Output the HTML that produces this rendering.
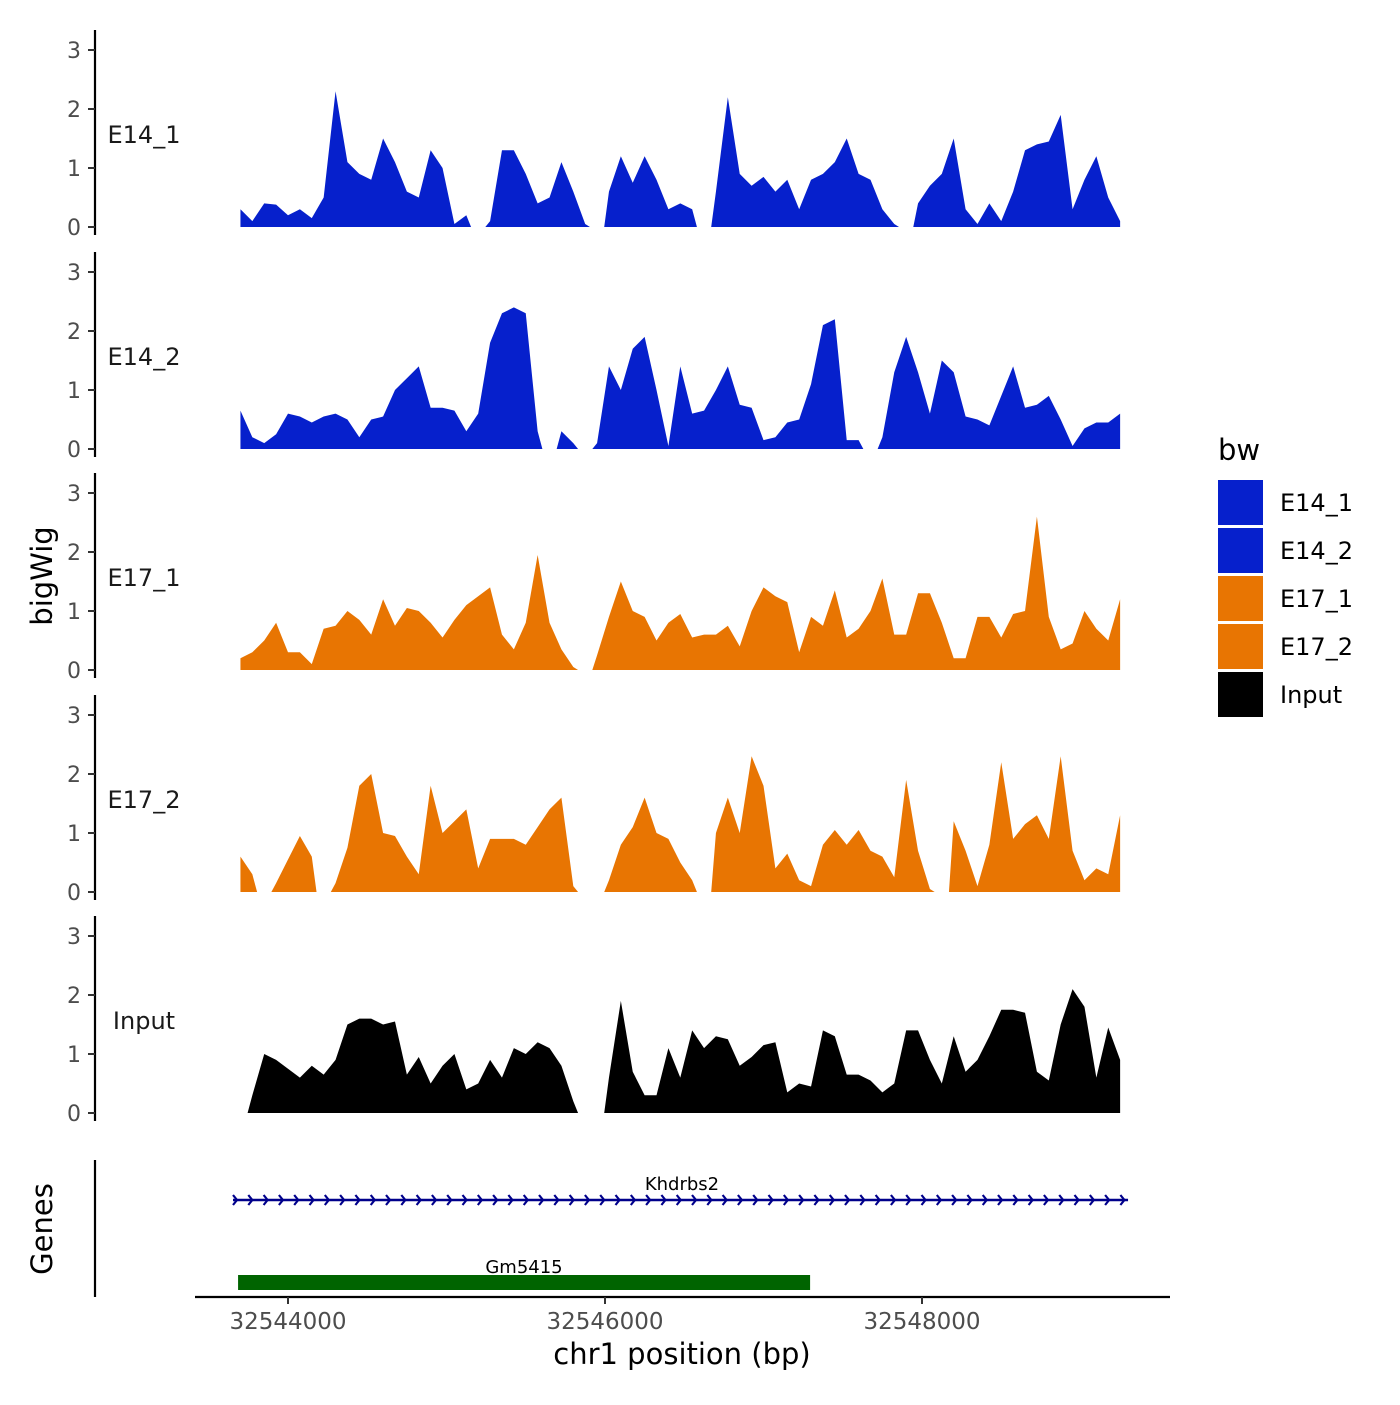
<!DOCTYPE html>
<html><head><meta charset="utf-8"><style>
body{margin:0;background:#fff}
svg text{font-family:"DejaVu Sans","Liberation Sans",sans-serif}
</style></head><body>
<svg id="chart" width="1400" height="1400" viewBox="0 0 1400 1400" xmlns="http://www.w3.org/2000/svg"></svg>
<script>
const trackNames=["E14_1","E14_2","E17_1","E17_2","Input"];
const trackColors=["#0620cc","#0620cc","#e87502","#e87502","#000000"];
const binStart=32543700, binSize=75;
const e14_1=[0.3,0.1,0.4,0.38,0.2,0.3,0.15,0.5,2.3,1.1,0.9,0.8,1.5,1.1,0.6,0.5,1.3,1.0,0.05,0.2,null,0.1,1.3,1.3,0.9,0.4,0.5,1.1,0.6,0.05,null,0.6,1.2,0.75,1.2,0.8,0.3,0.4,0.3,null,0.6,2.2,0.9,0.7,0.85,0.6,0.8,0.3,0.8,0.9,1.1,1.5,0.9,0.8,0.3,0.05,null,0.4,0.7,0.9,1.5,0.3,0.05,0.4,0.1,0.6,1.3,1.4,1.45,1.9,0.3,0.8,1.2,0.5,0.1];
const e14_2=[0.65,0.2,0.1,0.25,0.6,0.55,0.45,0.55,0.6,0.5,0.2,0.5,0.55,1.0,1.2,1.4,0.7,0.7,0.65,0.3,0.6,1.8,2.3,2.4,2.3,0.3,null,0.3,0.1,null,0.1,1.4,1.0,1.7,1.9,1.0,0.05,1.4,0.6,0.65,1.0,1.4,0.75,0.7,0.15,0.2,0.45,0.5,1.1,2.1,2.2,0.15,0.15,null,0.2,1.3,1.9,1.3,0.6,1.5,1.3,0.55,0.5,0.4,0.9,1.4,0.7,0.75,0.9,0.5,0.05,0.35,0.45,0.45,0.6];
const e17_1=[0.2,0.3,0.5,0.8,0.3,0.3,0.1,0.7,0.75,1.0,0.85,0.6,1.2,0.75,1.05,1.0,0.8,0.55,0.85,1.1,1.25,1.4,0.6,0.35,0.8,1.95,0.8,0.35,0.05,null,0.25,0.9,1.5,1.0,0.9,0.5,0.8,0.95,0.55,0.6,0.6,0.75,0.4,1.0,1.4,1.25,1.15,0.3,0.9,0.75,1.35,0.55,0.7,1.0,1.55,0.6,0.6,1.3,1.3,0.8,0.2,0.2,0.9,0.9,0.55,0.95,1.0,2.6,0.9,0.35,0.45,1.0,0.7,0.5,1.2];
const e17_2=[0.6,0.3,null,0.15,0.55,0.95,0.6,null,0.15,0.75,1.8,2.0,1.0,0.95,0.6,0.3,1.8,1.0,1.2,1.4,0.4,0.9,0.9,0.9,0.8,1.1,1.4,1.6,0.1,null,null,0.2,0.8,1.1,1.6,1.0,0.9,0.5,0.2,null,1.0,1.6,1.0,2.3,1.8,0.4,0.65,0.2,0.1,0.8,1.05,0.8,1.05,0.7,0.6,0.25,1.9,0.7,0.05,null,1.2,0.7,0.1,0.8,2.2,0.9,1.15,1.3,0.9,2.3,0.7,0.2,0.4,0.3,1.3];
const inputTrack=[null,0.3,1.0,0.9,0.75,0.6,0.8,0.65,0.9,1.5,1.6,1.6,1.5,1.55,0.65,0.95,0.5,0.8,1.0,0.4,0.5,0.9,0.6,1.1,1.0,1.2,1.1,0.8,0.2,null,null,0.6,1.9,0.7,0.3,0.3,1.1,0.6,1.4,1.1,1.3,1.25,0.8,0.95,1.15,1.2,0.35,0.5,0.45,1.4,1.3,0.65,0.65,0.55,0.35,0.5,1.4,1.4,0.9,0.5,1.3,0.7,0.9,1.3,1.75,1.75,1.7,0.7,0.55,1.5,2.1,1.8,0.6,1.45,0.9];
const trackValues=[e14_1,e14_2,e17_1,e17_2,inputTrack];
const yTicks=[0,1,2,3];
const xTicks=[32544000,32546000,32548000];
const geneNames=["Khdrbs2","Gm5415"];
const geneStarts=[32543653,32543685];
const geneEnds=[32549300,32547294];

const NS="http://www.w3.org/2000/svg";
const svg=document.getElementById('chart');
function el(t,a,p){const e=document.createElementNS(NS,t);for(const k in a)e.setAttribute(k,a[k]);(p||svg).appendChild(e);return e;}
function X(bp){return 288+(bp-32544000)*(317/2000);}
const base0=[227,449,670,892,1113];
function Y(i,v){return base0[i]-v*59;}

trackNames.forEach((name,i)=>{
  const g=el('g',{});
  
  
  const top=base0[i]-197, bot=base0[i]+8;
  const ax=el('line',{x1:95,x2:95,y1:top,y2:bot,stroke:'#000','stroke-width':2.2},g);
  
  
  yTicks.forEach(t=>{
    const tk=el('line',{x1:88,x2:95,y1:Y(i,t),y2:Y(i,t),stroke:'#333','stroke-width':2},g);
    
    
    const tl=el('text',{x:81,y:Y(i,t)+8,'text-anchor':'end','font-size':22,fill:'#4d4d4d'},g);
    tl.textContent=t;
    
    
  });
  const lab=el('text',{x:144,y:base0[i]-84,'text-anchor':'middle','font-size':24,fill:'#1a1a1a'},g);
  lab.textContent=name;
  
  
  const vals=trackValues[i];
  let seg=[];
  const flush=()=>{
    if(seg.length){
      const xs=seg[0][0]-binSize*0.4, xe=seg[seg.length-1][0]+(seg[seg.length-1][0]>=binStart+74*binSize?0:binSize*0.4);
      let d='M'+X(Math.max(xs,binStart))+','+base0[i];
      seg.forEach(p=>{d+=' L'+X(p[0])+','+Y(i,p[1]);});
      d+=' L'+X(xe)+','+base0[i]+' Z';
      const a=el('path',{d:d,fill:trackColors[i]},g);
      
      
    }
    seg=[];
  };
  vals.forEach((v,k)=>{
    if(v===null){flush();}else seg.push([binStart+k*binSize,v]);
  });
  flush();
});

const ga=el('line',{x1:95,x2:95,y1:1160,y2:1297,stroke:'#000','stroke-width':2.2});


{
  const x1=X(geneStarts[0]),x2=X(geneEnds[0]);
  const g=el('g',{});
  
  
  el('line',{x1:x1,x2:x2,y1:1200,y2:1200,stroke:'#00008b','stroke-width':2.5},g);
  let d='';
  for(let x=x1+4;x<=x2+1;x+=15.3){d+=`M${x-4},1195 L${x},1200 L${x-4},1205 `;}
  el('path',{d:d,stroke:'#00008b','stroke-width':2.2,fill:'none'},g);
  const t=el('text',{x:682,y:1190,'text-anchor':'middle','font-size':18,fill:'#000'},g);
  t.textContent=geneNames[0];
  
  
}
{
  const x1=X(geneStarts[1]),x2=X(geneEnds[1]);
  const g=el('g',{});
  
  
  el('rect',{x:x1,y:1275,width:x2-x1,height:15,fill:'#006400'},g);
  const t=el('text',{x:524,y:1273,'text-anchor':'middle','font-size':18,fill:'#000'},g);
  t.textContent=geneNames[1];
  
  
}
const xa=el('line',{x1:195,x2:1170,y1:1297,y2:1297,stroke:'#000','stroke-width':2.2});


xTicks.forEach(t=>{
  const tk=el('line',{x1:X(t),x2:X(t),y1:1297,y2:1304,stroke:'#333','stroke-width':2});
  
  
  const tl=el('text',{x:X(t),y:1329,'text-anchor':'middle','font-size':23,fill:'#4d4d4d'});
  tl.textContent=t;
  
  
});
const xt=el('text',{x:682,y:1364,'text-anchor':'middle','font-size':29,fill:'#000'});
xt.textContent='chr1 position (bp)';


const yt=el('text',{x:0,y:0,'text-anchor':'middle','font-size':29,fill:'#000',transform:'translate(52,576) rotate(-90)'});
yt.textContent='bigWig';


const gt=el('text',{x:0,y:0,'text-anchor':'middle','font-size':29,fill:'#000',transform:'translate(52,1229) rotate(-90)'});
gt.textContent='Genes';


const lt=el('text',{x:1218,y:460,'font-size':29,fill:'#000'});
lt.textContent='bw';


trackNames.forEach((n,i)=>{
  const g=el('g',{});
  
  
  el('rect',{x:1218,y:480+i*48,width:45,height:45,fill:trackColors[i]},g);
  const t=el('text',{x:1280,y:511+i*48,'font-size':24,fill:'#000'},g);
  t.textContent=n;
});
</script>
</body></html>
